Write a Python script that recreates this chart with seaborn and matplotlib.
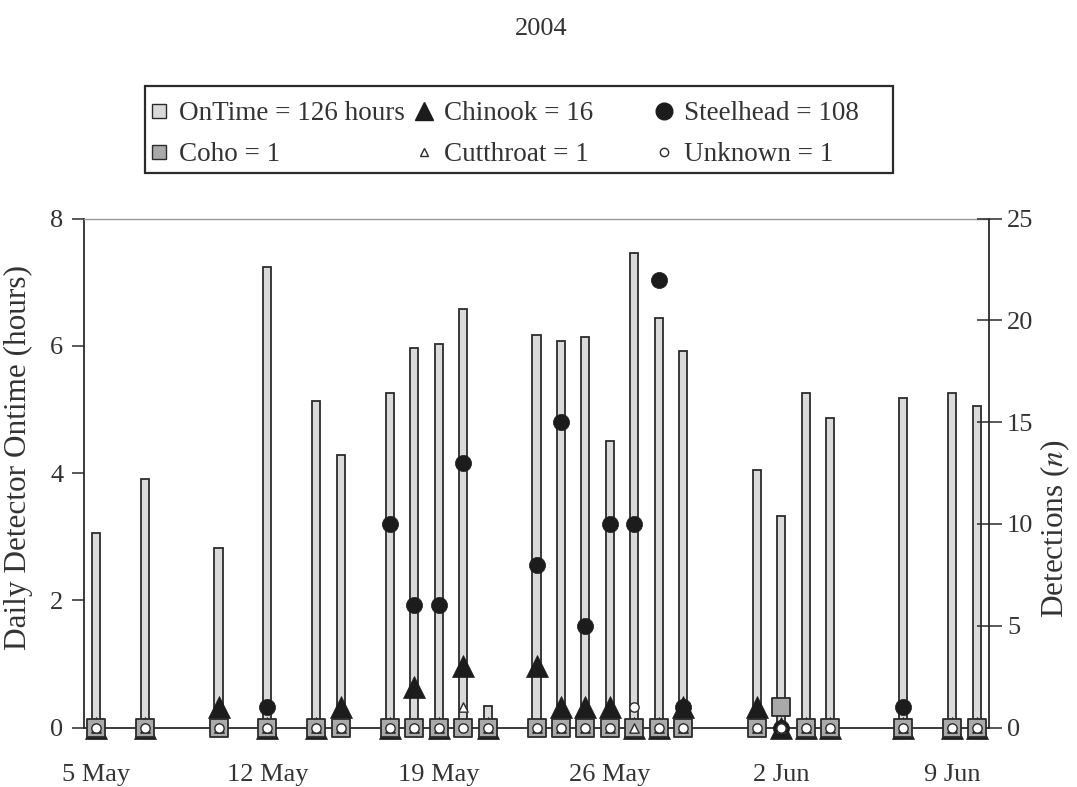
import matplotlib
matplotlib.use("Agg")
import matplotlib.pyplot as plt
from matplotlib.lines import Line2D
from matplotlib.patches import Rectangle
from matplotlib.ticker import FixedLocator
import seaborn as sns
import pandas as pd

# Days counted from 5 May 2004 on which the detector ran
days = [0, 2, 5, 7, 9, 10, 12, 13, 14, 15, 16, 18, 19, 20, 21, 22, 23, 24,
        27, 28, 29, 30, 33, 35, 36]
ontime_hours = [3.05, 3.90, 2.82, 7.24, 5.13, 4.29, 5.26, 5.96, 6.03, 6.57,
                0.34, 6.17, 6.07, 6.13, 4.51, 7.45, 6.44, 5.92, 4.05, 3.33,
                5.26, 4.87, 5.18, 5.26, 5.05]
steelhead = [0, 0, 0, 1, 0, 0, 10, 6, 6, 13, 0, 8, 15, 5, 10, 10, 22, 1,
             0, 0, 0, 0, 1, 0, 0]
chinook = [0, 0, 1, 0, 0, 1, 0, 2, 0, 3, 0, 3, 1, 1, 1, 0, 0, 1,
           1, 0, 0, 0, 0, 0, 0]
coho = [0, 0, 0, 0, 0, 0, 0, 0, 0, 0, 0, 0, 0, 0, 0, 0, 0, 0,
        0, 1, 0, 0, 0, 0, 0]
cutthroat = [0, 0, 0, 0, 0, 0, 0, 0, 0, 1, 0, 0, 0, 0, 0, 0, 0, 0,
             0, 0, 0, 0, 0, 0, 0]
unknown = [0, 0, 0, 0, 0, 0, 0, 0, 0, 0, 0, 0, 0, 0, 0, 1, 0, 0,
           0, 0, 0, 0, 0, 0, 0]

date_ticks = [0, 7, 14, 21, 28, 35]
date_labels = ["5 May", "12 May", "19 May", "26 May", "2 Jun", "9 Jun"]
legend_labels = ["OnTime = 126 hours", "Coho = 1", "Chinook = 16",
                 "Cutthroat = 1", "Steelhead = 108", "Unknown = 1"]
title_text = "2004"

sns.set_style("white")
plt.rcParams["font.family"] = ["Liberation Serif", "DejaVu Serif"]
plt.rcParams["mathtext.fontset"] = "stix"

INK = "#2b2b2b"
TXT = "#333333"
BAR_FACE = "#dadada"
COHO_FACE = "#a9a9a9"

W, H = 1077, 787
fig = plt.figure(figsize=(W / 100, H / 100), dpi=100)
ax = fig.add_axes([84 / W, 1 - 727.5 / H, (989 - 84) / W, (727.5 - 218.5) / H])

df = pd.DataFrame({"day": days, "hours": ontime_hours})
sns.barplot(data=df, x="day", y="hours", native_scale=True, width=0.33,
            color=BAR_FACE, saturation=1, edgecolor=INK, linewidth=1.3,
            errorbar=None, ax=ax, zorder=2)

ax.set_xlim(-0.5, 36.5)
ax.set_ylim(0, 8)
ax.set_yticks([0, 2, 4, 6, 8])
ax.xaxis.set_major_locator(FixedLocator(date_ticks))
ax.set_xticklabels(date_labels)
ax.xaxis.set_minor_locator(FixedLocator([d + 0.5 for d in range(-1, 37)]))
ax.tick_params(axis="x", which="major", length=0, pad=26, labelsize=19,
               labelcolor=TXT)
ax.tick_params(axis="x", which="minor", direction="out", length=9, width=1.1,
               color=INK)
ax.tick_params(axis="y", which="major", direction="out", length=9, width=1.1,
               color=INK, labelsize=19, labelcolor=TXT, pad=6)
ax.set_xlabel("")
ax.set_ylabel("Daily Detector Ontime (hours)", fontsize=22.5, color=TXT)
ax.yaxis.set_label_coords(-0.056, 0.53)

for side in ["left", "bottom"]:
    ax.spines[side].set_color(INK)
    ax.spines[side].set_linewidth(1.3)
ax.spines["right"].set_visible(False)
ax.spines["top"].set_color("#9a9a9a")
ax.spines["top"].set_linestyle((0, (1, 1)))
ax.spines["top"].set_linewidth(1.0)

# Fish detections on the secondary axis
ax2 = ax.twinx()
common = dict(ax=ax2, legend=False, clip_on=False)
sns.scatterplot(x=days, y=chinook, marker="^", s=250, color="#1c1c1c",
                edgecolor="#1c1c1c", linewidth=0.5, zorder=3, **common)
sns.scatterplot(x=days, y=steelhead, marker="o", s=135, color="#1c1c1c",
                edgecolor="#1c1c1c", linewidth=0.5, zorder=4, **common)
sns.scatterplot(x=days, y=coho, marker="s", s=180, color=COHO_FACE,
                edgecolor=INK, linewidth=1.3, zorder=5, **common)
sns.scatterplot(x=days, y=cutthroat, marker="^", s=45, color="white",
                edgecolor=INK, linewidth=1.0, zorder=6, **common)
sns.scatterplot(x=days, y=unknown, marker="o", s=45, color="white",
                edgecolor=INK, linewidth=1.0, zorder=7, **common)

ax2.set_xlim(-0.5, 36.5)
ax2.set_ylim(0, 25)
ax2.set_yticks([0, 5, 10, 15, 20, 25])
ax2.tick_params(axis="y", direction="inout", length=18, width=1.1, color=INK,
                labelsize=19, labelcolor=TXT, pad=4)
ax2.set_ylabel(r"Detections ($\mathit{n}$)", fontsize=22.5, color=TXT)
ax2.yaxis.set_label_coords(1.055, 0.39)
for side in ["left", "bottom", "top"]:
    ax2.spines[side].set_visible(False)
ax2.spines["right"].set_color(INK)
ax2.spines["right"].set_linewidth(1.3)

# Title
fig.text(541 / W, 1 - 29 / H, title_text, ha="center", va="center",
         fontsize=19, color=TXT)

# Legend: framed box with three columns
handles = [
    Line2D([], [], ls="none", marker="s", ms=10, mfc=BAR_FACE, mec=INK, mew=1.0),
    Line2D([], [], ls="none", marker="s", ms=10, mfc=COHO_FACE, mec=INK, mew=1.0),
    Line2D([], [], ls="none", marker="^", ms=13, mfc="#1c1c1c", mec="#1c1c1c"),
    Line2D([], [], ls="none", marker="^", ms=6, mfc="white", mec=INK, mew=1.0),
    Line2D([], [], ls="none", marker="o", ms=12, mfc="#1c1c1c", mec="#1c1c1c"),
    Line2D([], [], ls="none", marker="o", ms=6, mfc="white", mec=INK, mew=1.0),
]
col_x = [148, 413, 653]
for c in range(3):
    fig.legend(handles[2 * c:2 * c + 2], legend_labels[2 * c:2 * c + 2],
               loc="upper left", bbox_to_anchor=(col_x[c] / W, 1 - 101 / H),
               frameon=False, fontsize=19.5, handlelength=0.8,
               handletextpad=0.35, labelspacing=0.6, borderpad=0,
               borderaxespad=0, labelcolor=TXT)
fig.patches.append(Rectangle((145 / W, 1 - 173 / H), 748 / W, 87 / H,
                             transform=fig.transFigure, fill=False,
                             edgecolor=INK, linewidth=1.6))

fig.savefig("out.png", dpi=100)
